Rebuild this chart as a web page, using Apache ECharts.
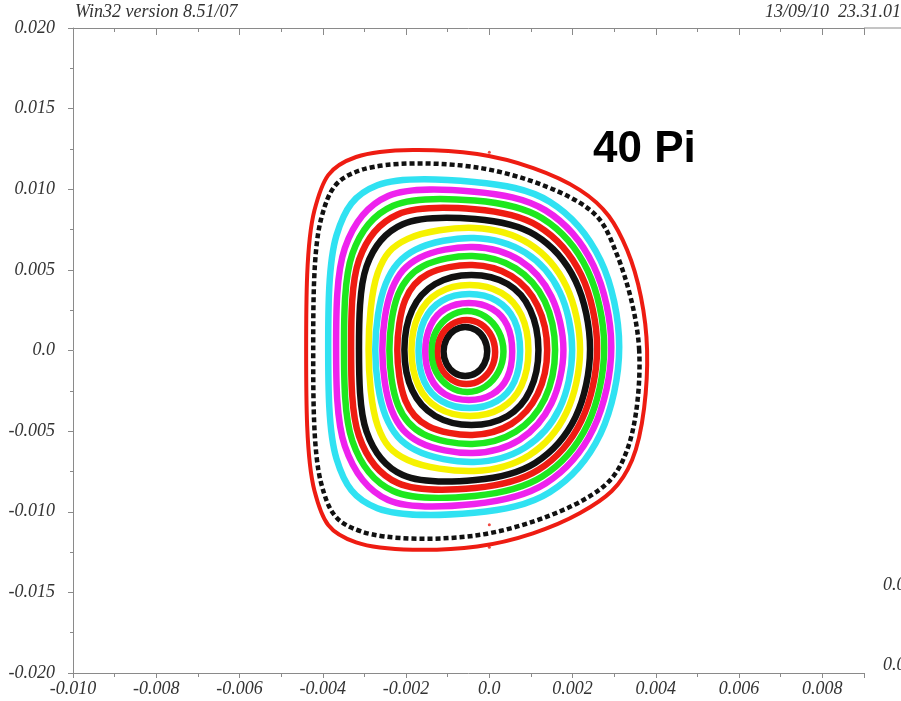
<!DOCTYPE html>
<html>
<head>
<meta charset="utf-8">
<script src="https://cdn.jsdelivr.net/npm/echarts@6/dist/echarts.min.js"></script>
<style>
html,body{margin:0;padding:0;background:#fff;}
#chart{width:901px;height:701px;}
</style>
</head>
<body>
<div id="chart"></div>
<script>
// Ring coordinates, in units of 1e-4 (x and y), inner ring first.
// Points go round each ring: E, NE, NE, N, NW, NW, W, SW, SW, S, SE, SE.
const r01x = [-0.5, -1.2, -3.1, -5.8, -8.4, -10.3, -11.0, -10.3, -8.4, -5.8, -3.1, -1.2];
const r01y = [-0.6, 7.0, 12.5, 14.6, 12.5, 7.0, -0.6, -8.2, -13.8, -15.8, -13.8, -8.2];
const r02x = [1.4, 0.5, -2.0, -5.5, -9.0, -11.6, -12.5, -11.6, -9.0, -5.5, -2.0, 0.5];
const r02y = [-0.9, 9.0, 16.3, 18.9, 16.3, 9.0, -0.9, -10.9, -18.1, -20.8, -18.1, -10.9];
const r03x = [3.4, 2.2, -1.0, -5.3, -9.6, -12.8, -13.9, -12.8, -9.6, -5.3, -1.0, 2.2];
const r03y = [-0.6, 11.9, 21.1, 24.5, 21.1, 11.9, -0.6, -13.2, -22.4, -25.7, -22.4, -13.2];
const r04x = [5.5, 4.3, 0.7, -4.9, -10.6, -14.1, -15.4, -14.1, -10.6, -4.9, 0.7, 4.3];
const r04y = [-0.6, 15.6, 25.8, 29.5, 25.8, 15.6, -0.6, -16.9, -27.1, -30.7, -27.1, -16.9];
const r05x = [7.4, 6.0, 1.8, -4.8, -11.4, -15.6, -17.0, -15.6, -11.4, -4.8, 1.8, 6.0];
const r05y = [-0.3, 18.8, 30.8, 35.0, 30.8, 18.8, -0.3, -19.4, -31.4, -35.7, -31.4, -19.4];
const r06x = [9.4, 7.7, 2.9, -4.7, -12.3, -17.0, -18.7, -17.0, -12.3, -4.7, 2.9, 7.7];
const r06y = [0.0, 21.9, 35.7, 40.6, 35.7, 21.9, 0.0, -21.9, -35.7, -40.6, -35.7, -21.9];
const r07x = [11.8, 9.8, 4.4, -4.3, -13.0, -18.5, -20.4, -18.5, -13.0, -4.3, 4.4, 9.8];
const r07y = [0.3, 25.4, 41.2, 46.8, 41.2, 25.4, 0.3, -24.8, -40.6, -46.2, -40.6, -24.8];
const r08x = [13.9, 11.6, 5.3, -4.1, -14.7, -20.2, -22.1, -20.2, -14.7, -4.1, 5.3, 11.6];
const r08y = [0.3, 27.7, 46.2, 53.0, 47.5, 31.4, 0.3, -30.8, -46.9, -52.4, -45.5, -27.1];
const r09x = [15.8, 13.3, 6.3, -4.1, -15.8, -21.9, -24.0, -21.9, -15.8, -4.1, 6.3, 13.3];
const r09y = [0.3, 30.6, 51.0, 58.6, 52.5, 34.7, 0.3, -34.1, -51.9, -58.0, -50.4, -30.0];
const r10x = [17.8, 14.9, 7.3, -4.0, -16.8, -23.4, -25.7, -23.4, -16.8, -4.0, 7.3, 14.9];
const r10y = [0.3, 33.5, 55.9, 64.2, 57.5, 38.0, 0.3, -37.4, -56.8, -63.6, -55.3, -32.9];
const r11x = [19.9, 16.9, 8.6, -3.7, -17.7, -24.9, -27.4, -24.9, -17.7, -3.7, 8.6, 16.9];
const r11y = [0.3, 36.4, 60.7, 69.8, 62.5, 41.3, 0.3, -40.7, -61.8, -69.1, -60.1, -35.8];
const r12x = [21.8, 18.5, 9.6, -3.6, -19.6, -26.8, -29.0, -26.8, -19.6, -3.6, 9.6, 18.5];
const r12y = [0.6, 39.8, 66.2, 76.0, 69.2, 48.1, 0.6, -46.8, -67.9, -74.7, -64.9, -38.6];
const r13x = [24.2, 20.7, 11.0, -3.4, -20.8, -29.5, -31.3, -29.5, -20.8, -3.4, 11.0, 20.7];
const r13y = [0.9, 43.2, 71.6, 81.5, 78.3, 52.1, 0.9, -50.2, -77.2, -80.3, -69.7, -41.3];
const r14x = [25.9, 22.1, 11.8, -3.5, -22.0, -31.3, -33.2, -31.3, -22.0, -3.5, 11.8, 22.1];
const r14y = [1.6, 46.7, 77.1, 87.6, 84.4, 56.2, 1.6, -53.1, -82.2, -85.3, -74.0, -43.6];
const r15x = [27.6, 23.6, 12.7, -3.5, -23.1, -32.9, -34.9, -32.9, -23.1, -3.5, 12.7, 23.6];
const r15y = [1.9, 49.7, 82.0, 93.0, 89.8, 59.9, 1.9, -56.1, -87.1, -90.2, -78.2, -46.0];
const r16x = [29.3, 25.0, 13.5, -3.6, -24.3, -34.7, -36.8, -34.7, -24.3, -3.6, 13.5, 25.0];
const r16y = [2.2, 52.8, 86.9, 98.5, 95.8, 63.5, 2.2, -59.2, -92.7, -95.2, -82.5, -48.5];
const r17x = [31.2, 26.7, 14.5, -3.6, -26.9, -36.7, -38.7, -36.7, -26.9, -3.6, 14.5, 26.7];
const r17y = [2.2, 56.0, 92.3, 104.5, 102.5, 71.5, 2.2, -67.2, -97.8, -100.6, -87.9, -51.7];
const r18x = [36.0, 30.7, 21.8, -2.9, -30.7, -40.4, -42.3, -40.4, -30.7, -2.9, 22.6, 33.1];
const r18y = [0.0, 59.2, 91.5, 113.5, 112.0, 81.6, -0.3, -82.2, -112.3, -114.6, -92.7, -61.7];
const r19x = [37.9, 33.1, 21.8, -2.9, -32.0, -42.0, -44.0, -42.0, -32.0, -2.9, 21.8, 34.3];
const r19y = [0.0, 62.3, 99.5, 121.8, 120.0, 86.9, 0.0, -86.9, -119.0, -121.5, -100.8, -67.9];

// stray single points (1e-4 units)
const strayX = [0.0, 0.0, 0.0];
const strayY = [123.0, -108.0, -122.0];

const xTicks = [-0.010, -0.008, -0.006, -0.004, -0.002, 0.0, 0.002, 0.004, 0.006, 0.008];
const yTicks = [-0.020, -0.015, -0.010, -0.005, 0.0, 0.005, 0.010, 0.015, 0.020];

const titleLeft = 'Win32 version 8.51/07';
const titleRight = '13/09/10  23.31.01';
const annotation = '40 Pi';

const U = 1e-4;
const BLACK = '#111111', RED = '#ee1c12', GREEN = '#1ee81e', MAGENTA = '#ee22ee', CYAN = '#30e2f2', YELLOW = '#f6f200';

const rings = [
  [r01x, r01y, BLACK], [r02x, r02y, RED], [r03x, r03y, GREEN], [r04x, r04y, MAGENTA],
  [r05x, r05y, CYAN], [r06x, r06y, YELLOW], [r07x, r07y, BLACK], [r08x, r08y, RED],
  [r09x, r09y, GREEN], [r10x, r10y, MAGENTA], [r11x, r11y, CYAN], [r12x, r12y, YELLOW],
  [r13x, r13y, BLACK], [r14x, r14y, RED], [r15x, r15y, GREEN], [r16x, r16y, MAGENTA],
  [r17x, r17y, CYAN], [r18x, r18y, BLACK, 'dash'], [r19x, r19y, RED, 'outer']
];

// closed Catmull-Rom curve through pixel points
function closedCurve(pts) {
  const n = pts.length;
  let d = 'M' + pts[0][0].toFixed(2) + ' ' + pts[0][1].toFixed(2);
  for (let i = 0; i < n; i++) {
    const p0 = pts[(i - 1 + n) % n], p1 = pts[i], p2 = pts[(i + 1) % n], p3 = pts[(i + 2) % n];
    const c1x = p1[0] + (p2[0] - p0[0]) / 6, c1y = p1[1] + (p2[1] - p0[1]) / 6;
    const c2x = p2[0] - (p3[0] - p1[0]) / 6, c2y = p2[1] - (p3[1] - p1[1]) / 6;
    d += ' C' + c1x.toFixed(2) + ' ' + c1y.toFixed(2) + ' ' + c2x.toFixed(2) + ' ' + c2y.toFixed(2) + ' ' + p2[0].toFixed(2) + ' ' + p2[1].toFixed(2);
  }
  return d + ' Z';
}

const series = rings.map(([xs, ys, color, kind]) => ({
  type: 'custom',
  coordinateSystem: 'cartesian2d',
  xAxisIndex: 0, yAxisIndex: 0,
  silent: true,
  animation: false,
  data: xs.map((x, i) => [x * U, ys[i] * U]),
  renderItem: function (params, api) {
    if (params.dataIndexInside !== 0) return null;
    const pts = [];
    for (let i = 0; i < xs.length; i++) {
      pts.push(api.coord([api.value(0, i), api.value(1, i)]));
    }
    return {
      type: 'path',
      shape: { pathData: closedCurve(pts) },
      style: {
        fill: 'none',
        stroke: color,
        lineWidth: kind === 'dash' ? 4.5 : (kind === 'outer' ? 4 : 6.5),
        lineDash: kind === 'dash' ? [5, 3] : null,
        lineCap: 'butt',
        lineJoin: 'round'
      }
    };
  }
}));
series.push({
  type: 'scatter',
  data: strayX.map((x, i) => [x * U, strayY[i] * U]),
  symbolSize: 3,
  itemStyle: { color: RED },
  silent: true,
  animation: false
});

const fmt = v => {
  if (Math.abs(v) < 1e-9) return '0.0';
  return v.toFixed(3);
};
const labelFont = { fontFamily: 'Liberation Serif', fontStyle: 'italic', fontSize: 18, color: '#333' };
const axisColor = '#8a8a8a';

const chart = echarts.init(document.getElementById('chart'), null, { renderer: 'canvas' });
chart.setOption({
  animation: false,
  backgroundColor: '#fff',
  grid: { left: 73, right: 37, top: 28, bottom: 28, containLabel: false },
  xAxis: [{
    type: 'value',
    min: xTicks[0], max: 0.009, interval: 0.002,
    position: 'bottom',
    axisLine: { show: true, onZero: false, lineStyle: { color: axisColor, width: 1 } },
    axisTick: { show: true, inside: false, length: 5, lineStyle: { color: axisColor } },
    minorTick: { show: true, splitNumber: 2, length: 4, lineStyle: { color: axisColor } },
    splitLine: { show: false },
    axisLabel: Object.assign({ formatter: fmt, margin: 7, showMaxLabel: false }, labelFont)
  }, {
    type: 'value',
    min: xTicks[0], max: 0.009, interval: 0.002,
    position: 'top',
    axisLine: { show: true, onZero: false, lineStyle: { color: axisColor, width: 1 } },
    axisTick: { show: true, inside: true, length: 7, lineStyle: { color: axisColor } },
    minorTick: { show: true, splitNumber: 2, length: 4, lineStyle: { color: axisColor } },
    splitLine: { show: false },
    axisLabel: { show: false }
  }],
  yAxis: {
    type: 'value',
    min: yTicks[0], max: yTicks[yTicks.length - 1], interval: 0.005,
    axisLine: { show: true, onZero: false, lineStyle: { color: axisColor, width: 1 } },
    axisTick: { show: true, inside: false, length: 5, lineStyle: { color: axisColor } },
    minorTick: { show: true, splitNumber: 2, length: 3, lineStyle: { color: axisColor } },
    splitLine: { show: false },
    axisLabel: Object.assign({ formatter: fmt, margin: 18 }, labelFont)
  },
  graphic: [
    { type: 'text', left: 75, top: 3, style: { text: titleLeft, font: 'italic 18px "Liberation Serif"', fill: '#333' } },
    { type: 'text', left: 765, top: 3, style: { text: titleRight, font: 'italic 18px "Liberation Serif"', fill: '#333' } },
    { type: 'text', left: 593, top: 128, style: { text: annotation, font: 'bold 44px "Liberation Sans"', fill: '#000' } },
    { type: 'line', shape: { x1: 864, y1: 28, x2: 901, y2: 28 }, style: { stroke: axisColor, lineWidth: 1 } },
    { type: 'text', left: 883, top: 576, style: { text: '0.00', font: 'italic 18px "Liberation Serif"', fill: '#333' } },
    { type: 'text', left: 883, top: 656, style: { text: '0.00', font: 'italic 18px "Liberation Serif"', fill: '#333' } }
  ],
  series: series
});
</script>
</body>
</html>
